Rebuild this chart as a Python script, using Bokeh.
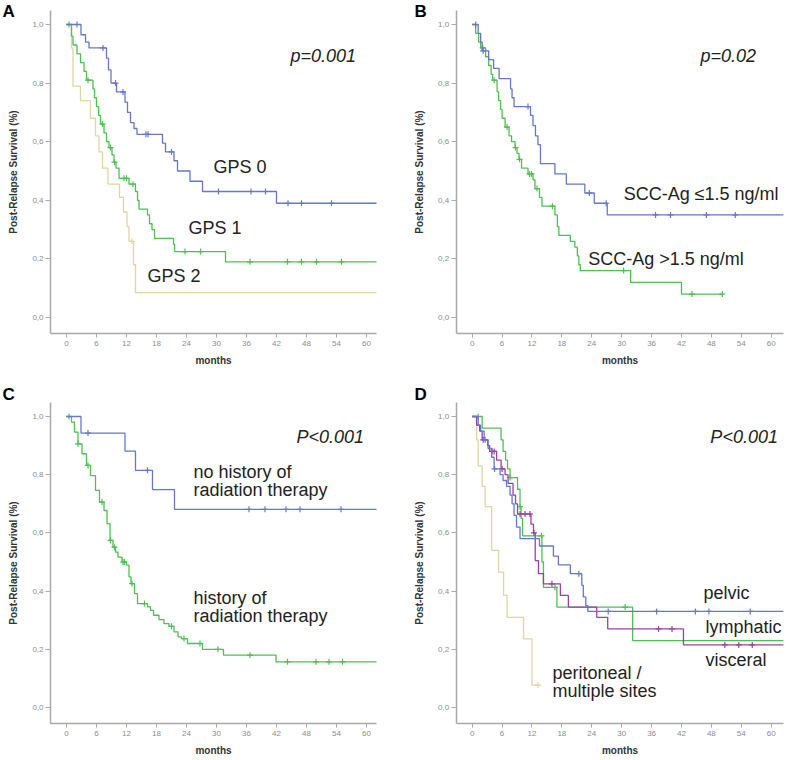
import numpy as np
from bokeh.plotting import figure
from bokeh.models import Range1d, FixedTicker, Label
from bokeh.layouts import column, row
from bokeh.embed import file_html
from bokeh.resources import INLINE

# ---------------- data ----------------
x_ticks = [0, 6, 12, 18, 24, 30, 36, 42, 48, 54, 60]
y_ticks = [0.0, 0.2, 0.4, 0.6, 0.8, 1.0]
y_tick_labels = ["0,0", "0,2", "0,4", "0,6", "0,8", "1,0"]
x_label = "months"
y_label = "Post-Relapse Survival (%)"

# Panel A: GPS
gps0_t = [0, 2.9, 3.8, 4.5, 8.0, 8.4, 8.9, 10.0, 11.7, 12.2, 12.8, 13.5, 14.1, 19.2, 19.8, 21.5, 22.2, 24.7, 27.2, 42.0, 62.0]
gps0_s = [1.0, 0.965, 0.94, 0.92, 0.885, 0.845, 0.80, 0.77, 0.735, 0.70, 0.665, 0.645, 0.625, 0.595, 0.565, 0.535, 0.50, 0.465, 0.43, 0.39, 0.39]
gps0_c = [2.1, 7.3, 9.8, 11.3, 15.9, 16.3, 21.0, 30.4, 36.9, 39.8, 44.3, 47.0, 53.0]
gps1_t = [0, 1.0, 1.3, 2.1, 2.8, 3.5, 4.0, 5.3, 5.6, 6.0, 6.4, 6.8, 7.5, 8.0, 8.5, 9.1, 9.5, 9.9, 10.5, 12.5, 13.8, 14.2, 14.5, 16.2, 16.6, 17.1, 17.6, 21.4, 21.6, 31.8, 62.0]
gps1_s = [1.0, 0.96, 0.93, 0.90, 0.87, 0.84, 0.81, 0.78, 0.75, 0.72, 0.69, 0.66, 0.63, 0.60, 0.58, 0.555, 0.53, 0.51, 0.475, 0.455, 0.43, 0.40, 0.37, 0.35, 0.32, 0.30, 0.27, 0.25, 0.225, 0.19, 0.19]
gps1_c = [0.5, 4.3, 7.2, 8.8, 9.6, 11.5, 12.0, 13.3, 23.7, 26.8, 36.7, 44.2, 47.0, 50.0, 55.0]
gps2_t = [0, 1.0, 1.3, 2.8, 4.8, 5.8, 6.5, 7.2, 8.3, 10.6, 11.4, 12.1, 12.5, 13.4, 13.8, 62.0]
gps2_s = [1.0, 0.92, 0.79, 0.74, 0.68, 0.62, 0.565, 0.51, 0.455, 0.41, 0.36, 0.31, 0.26, 0.18, 0.085, 0.085]
gps2_c = [13.1]

# Panel B: SCC-Ag
scclo_t = [0, 1.2, 1.7, 2.0, 3.3, 4.3, 5.4, 7.7, 8.0, 8.4, 11.7, 12.2, 12.7, 13.2, 13.7, 16.6, 18.9, 22.6, 24.5, 27.1, 62.45]
scclo_s = [1.0, 0.97, 0.94, 0.91, 0.88, 0.85, 0.815, 0.78, 0.75, 0.72, 0.69, 0.655, 0.62, 0.59, 0.525, 0.49, 0.455, 0.425, 0.39, 0.35, 0.35]
scclo_c = [0.7, 2.2, 11.2, 23.5, 26.9, 36.8, 39.8, 47.0, 52.8]
scchi_t = [0, 0.7, 1.3, 1.7, 2.7, 3.3, 3.8, 4.1, 5.0, 5.3, 5.7, 6.0, 6.6, 7.4, 7.9, 8.6, 9.0, 9.4, 9.9, 11.2, 12.2, 12.6, 13.5, 14.0, 16.6, 17.1, 17.4, 19.7, 20.6, 21.1, 21.4, 21.7, 31.8, 42.0, 50.2]
scchi_s = [1.0, 0.97, 0.94, 0.92, 0.89, 0.86, 0.83, 0.81, 0.77, 0.74, 0.71, 0.68, 0.65, 0.62, 0.60, 0.58, 0.56, 0.54, 0.51, 0.49, 0.47, 0.44, 0.41, 0.38, 0.35, 0.31, 0.28, 0.26, 0.24, 0.21, 0.18, 0.16, 0.12, 0.08, 0.08]
scchi_c = [2.1, 4.4, 7.0, 8.7, 9.5, 11.5, 11.9, 13.0, 16.1, 30.4, 44.1, 50.2]

# Panel C: radiation therapy history
norad_t = [0, 2.9, 11.7, 13.8, 17.2, 21.6, 62.0]
norad_s = [1.0, 0.943, 0.881, 0.815, 0.749, 0.681, 0.681]
norad_c = [4.3, 16.2, 36.5, 39.7, 43.9, 46.7, 54.9]
rad_t = [0, 1.0, 1.6, 2.3, 3.1, 4.0, 4.8, 5.8, 6.6, 7.5, 8.1, 8.7, 9.3, 9.8, 10.3, 11.1, 12.0, 12.5, 12.9, 13.6, 14.2, 16.2, 16.8, 17.4, 18.5, 19.5, 20.5, 21.5, 22.3, 23.0, 24.2, 27.2, 31.4, 41.9, 62.0]
rad_s = [1.0, 0.981, 0.946, 0.906, 0.872, 0.832, 0.797, 0.746, 0.706, 0.677, 0.632, 0.574, 0.551, 0.534, 0.517, 0.50, 0.489, 0.449, 0.426, 0.391, 0.357, 0.346, 0.334, 0.317, 0.302, 0.288, 0.279, 0.26, 0.243, 0.237, 0.22, 0.20, 0.18, 0.157, 0.157]
rad_c = [0.5, 2.3, 4.3, 7.1, 8.8, 9.6, 11.3, 11.6, 13.1, 15.6, 21.0, 23.5, 26.7, 30.3, 36.7, 44.2, 49.9, 52.5, 55.2]

# Panel D: relapse site
pelvic_t = [0, 1.2, 1.7, 2.4, 3.2, 3.9, 4.4, 5.6, 6.2, 6.9, 7.6, 8.0, 8.4, 8.9, 9.6, 13.5, 16.3, 17.3, 19.7, 22.0, 22.3, 22.8, 23.2, 62.45]
pelvic_s = [1.0, 0.97, 0.95, 0.92, 0.89, 0.86, 0.82, 0.80, 0.78, 0.76, 0.73, 0.70, 0.66, 0.62, 0.58, 0.555, 0.52, 0.49, 0.46, 0.42, 0.38, 0.35, 0.33, 0.33]
pelvic_c = [2.6, 4.5, 21.4, 27.3, 37.0, 44.8, 47.5, 55.8]
lymph_t = [0, 0.9, 1.5, 2.0, 3.1, 3.5, 4.9, 5.8, 6.6, 7.2, 8.2, 8.7, 9.1, 11.8, 12.3, 12.65, 13.3, 14.3, 17.7, 19.3, 25.0, 27.2, 42.4, 62.45]
lymph_s = [1.0, 0.97, 0.95, 0.92, 0.90, 0.88, 0.85, 0.82, 0.80, 0.77, 0.73, 0.70, 0.665, 0.63, 0.60, 0.505, 0.46, 0.425, 0.385, 0.345, 0.31, 0.27, 0.215, 0.215]
lymph_c = [2.2, 4.0, 4.4, 6.0, 9.6, 10.6, 11.6, 12.4, 16.0, 37.4, 40.1, 50.7, 53.5, 56.2]
visc_t = [0, 2.0, 5.8, 6.2, 6.7, 7.1, 7.6, 9.1, 9.6, 9.8, 10.1, 14.0, 14.3, 17.0, 32.2, 62.45]
visc_s = [1.0, 0.96, 0.92, 0.88, 0.85, 0.82, 0.79, 0.75, 0.69, 0.65, 0.59, 0.50, 0.413, 0.345, 0.23, 0.23]
visc_c = [1.2, 7.6, 9.6, 13.9, 16.6, 30.7]
peri_t = [0, 0.9, 1.2, 2.0, 2.6, 3.9, 5.3, 6.3, 7.0, 10.3, 12.0, 13.2]
peri_s = [1.0, 0.92, 0.83, 0.76, 0.69, 0.54, 0.465, 0.385, 0.31, 0.236, 0.077, 0.077]
peri_c = [13.2]

# ---------------- style ----------------
FONT = "Liberation Sans"
BLUE = "#6677c8"
GREEN = "#4ec052"
BEIGE = "#dcd6a4"
PURPLE = "#9c40a6"
AXIS = "#a9a9a9"
TXT = "#222222"

Y_LO, Y_HI = -0.055, 1.048   # extent of the drawn axes


def make_panel(xr, yr, xb):
    p = figure(width=395, height=380, x_range=Range1d(*xr), y_range=Range1d(*yr),
               output_backend="svg", toolbar_location=None, min_border=0)
    p.outline_line_color = None
    p.grid.visible = False
    for ax in (p.xaxis[0], p.yaxis[0]):
        ax.axis_line_color = AXIS
        ax.axis_line_width = 1.5
        ax.major_tick_line_color = AXIS
        ax.major_tick_in = 0
        ax.minor_tick_line_color = None
        ax.major_label_text_font = FONT
        ax.major_label_text_font_size = "8px"
        ax.major_label_text_color = "#8c8c8c"
        ax.axis_label_text_font = FONT
        ax.axis_label_text_font_style = "bold"
        ax.axis_label_text_font_size = "10px"
        ax.axis_label_text_color = "#333333"
    p.xaxis.fixed_location = Y_LO
    p.yaxis.fixed_location = -3.2
    p.xaxis.bounds = xb
    p.yaxis.bounds = (Y_LO, Y_HI)
    p.xaxis.ticker = FixedTicker(ticks=x_ticks)
    p.yaxis.ticker = FixedTicker(ticks=y_ticks)
    p.yaxis.major_label_overrides = dict(zip(y_ticks, y_tick_labels))
    p.xaxis.axis_label = x_label
    p.yaxis.axis_label = y_label
    p.xaxis.major_tick_out = 4
    p.yaxis.major_tick_out = 5
    p.xaxis.major_label_standoff = 3
    p.yaxis.major_label_standoff = 2
    p.xaxis.axis_label_standoff = 6
    p.yaxis.axis_label_standoff = 10
    return p


def km(p, t, s, c, color):
    p.step(x=t, y=s, mode="after", line_color=color, line_width=1.3)
    t_arr = np.asarray(t)
    s_arr = np.asarray(s)
    idx = np.searchsorted(t_arr, np.asarray(c), side="right") - 1
    p.scatter(x=c, y=s_arr[idx], marker="cross", size=6, line_color=color,
              line_width=1.2)


def txt(p, x, y, text, size="18px", style="normal", color=TXT):
    p.add_layout(Label(x=x, y=y, text=text, text_font=FONT,
                       text_font_size=size, text_font_style=style,
                       text_color=color, text_baseline="middle",
                       text_align="left"))


XR_L = (-13.2, 65.8)
XR_R = (-15.39, 63.88)
YR_T = (-0.215, 1.0819)
YR_B = (-0.1821, 1.1237)

# Panel A
pA = make_panel(XR_L, YR_T, (-3.2, 62.0))
km(pA, gps2_t, gps2_s, gps2_c, BEIGE)
km(pA, gps1_t, gps1_s, gps1_c, GREEN)
km(pA, gps0_t, gps0_s, gps0_c, BLUE)
txt(pA, -12.8, 1.045, "A", size="17px", style="bold", color="black")
txt(pA, 44.8, 0.891, "p=0.001", style="italic")
txt(pA, 29.4, 0.512, "GPS 0")
txt(pA, 24.4, 0.304, "GPS 1")
txt(pA, 16.2, 0.140, "GPS 2")

# Panel B
pB = make_panel(XR_R, YR_T, (-3.2, 62.45))
km(pB, scchi_t, scchi_s, scchi_c, GREEN)
km(pB, scclo_t, scclo_s, scclo_c, BLUE)
txt(pB, -11.6, 1.045, "B", size="17px", style="bold", color="black")
txt(pB, 45.8, 0.891, "p=0.02", style="italic")
txt(pB, 30.4, 0.423, "SCC-Ag \u22641.5 ng/ml")
txt(pB, 23.3, 0.201, "SCC-Ag >1.5 ng/ml")

# Panel C
pC = make_panel(XR_L, YR_B, (-3.2, 62.0))
km(pC, rad_t, rad_s, rad_c, GREEN)
km(pC, norad_t, norad_s, norad_c, BLUE)
txt(pC, -12.8, 1.0755, "C", size="17px", style="bold", color="black")
txt(pC, 46.0, 0.931, "P<0.001", style="italic")
txt(pC, 25.4, 0.808, "no history of")
txt(pC, 25.4, 0.746, "radiation therapy")
txt(pC, 25.4, 0.378, "history of")
txt(pC, 25.4, 0.316, "radiation therapy")

# Panel D
pD = make_panel(XR_R, YR_B, (-3.2, 62.45))
km(pD, peri_t, peri_s, peri_c, BEIGE)
km(pD, visc_t, visc_s, visc_c, GREEN)
km(pD, lymph_t, lymph_s, lymph_c, PURPLE)
km(pD, pelvic_t, pelvic_s, pelvic_c, BLUE)
txt(pD, -11.6, 1.0755, "D", size="17px", style="bold", color="black")
txt(pD, 47.8, 0.931, "P<0.001", style="italic")
txt(pD, 46.4, 0.392, "pelvic")
txt(pD, 46.8, 0.278, "lymphatic")
txt(pD, 46.8, 0.162, "visceral")
txt(pD, 16.1, 0.120, "peritoneal /")
txt(pD, 16.1, 0.058, "multiple sites")

layout = column(row(pA, pB), row(pC, pD))
open("out.html", "w").write(file_html(layout, INLINE))
